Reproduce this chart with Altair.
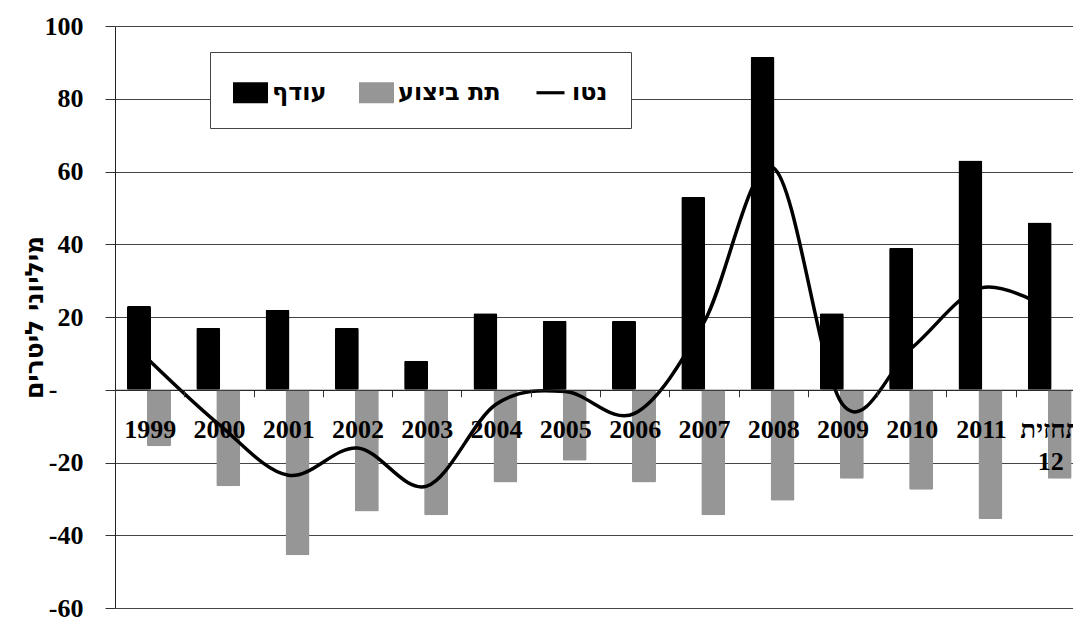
import altair as alt
import pandas as pd

# Annual categories (last one is the 2012 forecast)
years = ["1999", "2000", "2001", "2002", "2003", "2004", "2005",
         "2006", "2007", "2008", "2009", "2010", "2011", "תחזית 12"]

# Surplus (black bars), under-performance (gray bars) and net (line), million litres
surplus = [23, 17, 22, 17, 8, 21, 19, 19, 53, 91.5, 21, 39, 63, 46]
under = [-15.5, -26.5, -45.5, -33.5, -34.5, -25.5, -19.5,
         -25.5, -34.5, -30.5, -24.5, -27.5, -35.5, -24.5]
net = [8, -9.5, -23.5, -16, -26.5, -4, -0.5, -6.5, 18.5, 61, -4, 11.5, 28, 22]

series_names = ["עודף", "תת ביצוע", "נטו"]
series_colors = ["#000000", "#969696", "#000000"]

NUM_FONT = "Liberation Serif"
HEB_FONT = "DejaVu Sans"

df = pd.DataFrame({"year": years, "surplus": surplus, "under": under, "net": net})
legend_df = pd.DataFrame({"series": series_names})

x_scale = alt.Scale(type="band", domain=years, range=[0, 970],
                    paddingInner=0, paddingOuter=0)
y_scale = alt.Scale(domain=[-60, 100], nice=False)

x_axis = alt.Axis(
    orient="bottom", offset=-218.25, title=None, labelAngle=0, zindex=2,
    labelFont=NUM_FONT, labelFontSize=26, labelFontWeight="bold", labelColor="black",
    labelPadding=20, labelBaseline="top", labelLineHeight=32,
    labelExpr="split(datum.label, ' ')", labelOverlap=False, labelLimit=0,
    tickSize=7, tickColor="#333333", tickBand="extent",
    domainColor="#222222", grid=False,
)

y_axis = alt.Axis(
    values=list(range(-60, 101, 20)),
    labelExpr="datum.value == 0 ? '-' : "
              "(datum.value < 0 ? '-' + abs(datum.value) : '' + datum.value)",
    labelFont=NUM_FONT, labelFontSize=26, labelFontWeight="bold", labelColor="black",
    labelPadding={"condition": {"test": "datum.value == 0", "value": 48}, "value": 22},
    tickSize=10, tickColor="#333333", labelOverlap=False,
    domainColor="#222222", grid=True, gridColor="#444444", gridWidth=1,
    title="מיליוני ליטרים", titleFont=HEB_FONT, titleFontSize=25,
    titleFontWeight="bold", titleColor="black",
    titleX=-81, titleY=291, titleAngle=-90, titleAlign="center",
    titleBaseline="middle",
)

base = alt.Chart(df)

x_enc = alt.X("year:N", sort=years, scale=x_scale, axis=x_axis)

black_bars = base.mark_bar(color="#000000", width=24, xOffset=-10.65,
                           cornerRadius=1.5).encode(
    x=x_enc,
    y=alt.Y("surplus:Q", scale=y_scale, axis=y_axis),
)

gray_bars = base.mark_bar(color="#969696", width=24, xOffset=9.35,
                          cornerRadius=1.5).encode(
    x=x_enc,
    y=alt.Y("under:Q", scale=y_scale, axis=y_axis),
)

net_line = base.mark_line(color="#000000", strokeWidth=3.5,
                          interpolate="cardinal").encode(
    x=alt.X("year:N", sort=years, scale=x_scale, axis=x_axis, bandPosition=0.5),
    y=alt.Y("net:Q", scale=y_scale, axis=y_axis),
)

legend = alt.Legend(
    title=None, orient="none", legendX=95, legendY=26,
    direction="horizontal", columns=3,
    symbolSize=1225, symbolStrokeWidth=0, symbolOpacity=1,
    labelFont=HEB_FONT, labelFontSize=24, labelFontWeight="bold", labelColor="black",
    labelOffset=4, labelLimit=0, columnPadding=32, padding=23,
    strokeColor="#444444", fillColor="white",
)

legend_layer = alt.Chart(legend_df).mark_point(filled=True).encode(
    fill=alt.Fill("series:N", scale=alt.Scale(domain=series_names, range=series_colors),
                  legend=legend),
    shape=alt.Shape("series:N",
                    scale=alt.Scale(domain=series_names,
                                    range=["M-1,-0.6H1V0.6H-1Z",
                                           "M-1,-0.6H1V0.6H-1Z",
                                           "M-0.8,-0.09H0.8V0.09H-0.8Z"]),
                    legend=legend),
).transform_filter("false")

chart = alt.layer(black_bars, gray_bars, net_line, legend_layer).properties(
    width=958, height=582,
    autosize=alt.AutoSizeParams(type="none"),
    padding={"left": 115, "top": 26, "right": 0, "bottom": 11},
    background="white",
).configure_view(stroke=None)

chart.save("out.html", embed_options={"renderer": "svg", "actions": False})
